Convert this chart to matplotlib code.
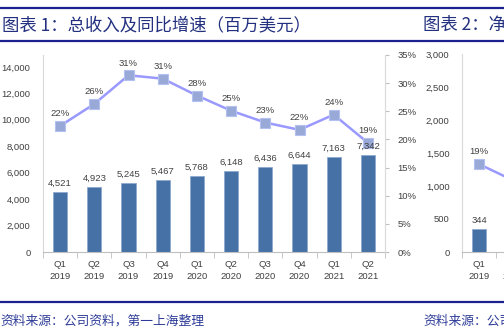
import matplotlib
matplotlib.use("Agg")
import matplotlib.pyplot as plt
from matplotlib.lines import Line2D
from matplotlib.ticker import FuncFormatter
import numpy as np

# chart 1: total revenue (USD mn) and YoY growth
quarters = ["Q1\n2019", "Q2\n2019", "Q3\n2019", "Q4\n2019", "Q1\n2020",
            "Q2\n2020", "Q3\n2020", "Q4\n2020", "Q1\n2021", "Q2\n2021"]
revenue = [4521, 4923, 5245, 5467, 5768, 6148, 6436, 6644, 7163, 7342]
growth = [0.224, 0.263, 0.314, 0.308, 0.278, 0.251, 0.230, 0.217, 0.244, 0.194]

# chart 2 (only the left edge is visible)
quarters2 = ["Q1\n2019", "Q2\n2019"]
net_income = [344]
net_growth = [0.19, 0.155]

title1 = "图表 1：总收入及同比增速（百万美元）"
title2 = "图表 2：净"
source = "资料来源：公司资料，第一上海整理"

W, H = 504, 329
CJK = ["Noto Sans CJK SC", "DejaVu Sans"]
NAVY = "#1B2290"
TXT = "#404040"
BAR = "#4571A6"
LINE = "#9999FF"

plt.rcParams["font.family"] = ["Liberation Sans", "DejaVu Sans"]
plt.rcParams["font.size"] = 6.8

fig = plt.figure(figsize=(W / 100, H / 100), dpi=100)


def px_axes(x0, y_top, w, y_bot):
    return fig.add_axes([x0 / W, 1 - y_bot / H, w / W, (y_bot - y_top) / H])


def style_bar_axes(ax, labels):
    ax.set_xlim(-0.5, 9.5)
    ax.set_xticks(range(len(labels)))
    ax.set_xticklabels(labels, color=TXT, linespacing=1.45)
    ax.set_xticks(np.arange(-0.5, 10, 1), minor=True)
    ax.tick_params(axis="x", which="major", length=0, pad=6)
    ax.tick_params(axis="x", which="minor", length=4, color="#BFBFBF")
    ax.tick_params(axis="y", length=0, pad=9, labelcolor=TXT)
    ax.yaxis.set_major_formatter(FuncFormatter(lambda v, _: f"{int(v):,}"))
    for s in ("top", "right"):
        ax.spines[s].set_visible(False)
    ax.spines["left"].set_color("#D9D9D9")
    ax.spines["bottom"].set_color("#BFBFBF")
    ax.patch.set_alpha(0)


def draw_line(ax2, vals):
    xs = np.arange(len(vals))
    ax2.plot(xs, vals, color=LINE, lw=1.8, marker="s", ms=6.5,
             mfc="#98A9D7", mec="#B4C0F0", mew=0.8, zorder=3)
    for i, v in enumerate(vals):
        ax2.annotate(f"{v:.0%}", (i, v), xytext=(0, 5.5),
                     textcoords="offset points", ha="center", va="bottom",
                     color=TXT, annotation_clip=False)


def bar_labels(ax, ax2, vals):
    # drawn on the twin so the numbers sit over the line markers
    for i, v in enumerate(vals):
        ax2.annotate(f"{v:,}", (i, v), xycoords=ax.transData, xytext=(0, 3),
                     textcoords="offset points", ha="center", va="bottom",
                     color=TXT, zorder=5)


# ---- chart 1
ax = px_axes(43, 55, 342, 252)
x = np.arange(len(revenue))
ax.bar(x, revenue, width=0.42, color=BAR, edgecolor="#8FA9CF", linewidth=0.6)
ax.set_ylim(0, 14900)
ax.set_yticks(range(0, 14001, 2000))
style_bar_axes(ax, quarters)

ax2 = ax.twinx()
ax2.set_ylim(0, 0.35)
ax2.set_yticks(np.arange(0, 0.351, 0.05))
ax2.yaxis.set_major_formatter(FuncFormatter(lambda v, _: f"{v:.0%}"))
ax2.tick_params(axis="y", length=3, color="#BFBFBF", pad=6, labelcolor=TXT)
for s in ("top", "left", "bottom"):
    ax2.spines[s].set_visible(False)
ax2.spines["right"].set_color("#D9D9D9")
draw_line(ax2, growth)
bar_labels(ax, ax2, revenue)

# ---- chart 2 (cut off at the right edge)
bx = px_axes(462, 54, 340, 252)
bx.bar(np.arange(len(net_income)), net_income, width=0.42, color=BAR,
       edgecolor="#8FA9CF", linewidth=0.6)
bx.set_ylim(0, 3000)
bx.set_yticks(range(0, 3001, 500))
style_bar_axes(bx, quarters2)
bx2 = bx.twinx()
bx2.set_ylim(0, 0.428)
bx2.set_yticks([])
for s in ("top", "left", "bottom", "right"):
    bx2.spines[s].set_visible(False)
draw_line(bx2, net_growth)
bar_labels(bx, bx2, net_income)

# ---- header / footer
for yy in (8, 41, 302):
    fig.add_artist(Line2D([0, 1], [1 - yy / H] * 2, color=NAVY, lw=1.6))
fig.text(2 / W, 1 - 25 / H, title1, family=CJK, fontsize=12.5, color="#22307F",
         va="center", ha="left")
fig.text(423 / W, 1 - 25 / H, title2, family=CJK, fontsize=12.5,
         color="#22307F", va="center", ha="left")
fig.text(0 / W, 1 - 321 / H, source, family=CJK, fontsize=9.2, color="#2E3C98",
         va="center", ha="left")
fig.text(423 / W, 1 - 321 / H, source, family=CJK, fontsize=9.2,
         color="#2E3C98", va="center", ha="left")

fig.savefig("out.png", dpi=100)
